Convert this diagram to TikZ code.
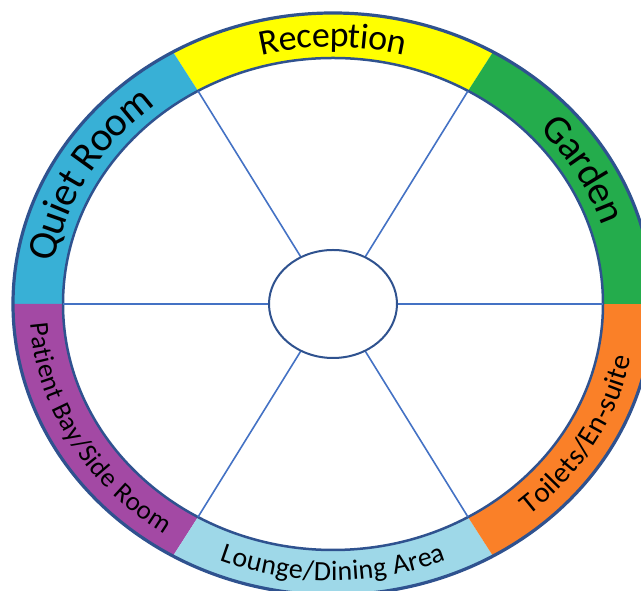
\documentclass[tikz,border=0pt]{standalone}
\usepackage{fontspec}
\setmainfont{Carlito}
\usetikzlibrary{calc,decorations.text,shapes.geometric}

\definecolor{quietblue}{RGB}{56,176,214}
\definecolor{recyellow}{RGB}{255,255,0}
\definecolor{gardengreen}{RGB}{36,172,76}
\definecolor{toiletorange}{RGB}{250,128,40}
\definecolor{loungeblue}{RGB}{158,216,232}
\definecolor{patientpurple}{RGB}{163,73,164}
\definecolor{rimblue}{RGB}{47,82,143}
\definecolor{spokeblue}{RGB}{68,114,196}

% ring geometry (pt)
\def\outerx{320}\def\outery{291}
\def\innerx{270}\def\innery{246}
\def\midx{295}\def\midy{268}

% one coloured sector of the ring, between two parametric angles
\newcommand\ringsector[3]{%
  \fill[#1] ($(C)+({\outerx*cos(#2)},{\outery*sin(#2)})$)
    arc[start angle=#2,end angle=#3,x radius=\outerx,y radius=\outery]
    -- ($(C)+({\innerx*cos(#3)},{\innery*sin(#3)})$)
    arc[start angle=#3,end angle=#2,x radius=\innerx,y radius=\innery]
    -- cycle;}

% a label that follows the middle of the ring
% #1 start angle, #2 end angle, #3 font size, #4 raise, #5 text
\newcommand\ringlabel[5]{%
  \path[decorate,decoration={text along path,text align=center,raise=#4,
      text={|\fontsize{#3}{#3}\selectfont|#5}}]
    ($(C)+({\midx*cos(#1)},{\midy*sin(#1)})$)
    arc[start angle=#1,end angle=#2,x radius=\midx,y radius=\midy];}

\tikzset{
  spoke/.style={draw=spokeblue,line width=1.6pt},
  rim/.style={draw=rimblue,line width=3.2pt},
  innerrim/.style={draw=rimblue,line width=2.5pt},
  hubstyle/.style={draw=rimblue,line width=2pt,fill=white,ellipse,
    minimum width=128pt,minimum height=108pt,inner sep=0pt},
}

\begin{document}
\begin{tikzpicture}[x=1pt,y=1pt]
\useasboundingbox (0,0) rectangle (641,591);
\coordinate (C) at (333,287);

% coloured sectors
\ringsector{recyellow}{60}{120}
\ringsector{quietblue}{120}{180}
\ringsector{patientpurple}{180}{240}
\ringsector{loungeblue}{240}{300}
\ringsector{toiletorange}{300}{360}
\ringsector{gardengreen}{0}{60}

% ring outlines
\draw[rim] (C) ellipse[x radius=\outerx,y radius=\outery];
\draw[innerrim] (C) ellipse[x radius=\innerx,y radius=\innery];

% spokes from the hub to the ring
\foreach \a in {0,60,120,180,240,300}{
  \coordinate (h\a) at ($(C)+({64*cos(\a)},{54*sin(\a)})$);
  \coordinate (r\a) at ($(C)+({\innerx*cos(\a)},{\innery*sin(\a)})$);
  \draw[spoke] (h\a) -- (r\a);
}

% hub
\node[hubstyle] (hub) at (C) {};

% labels
\ringlabel{120}{60}{36}{-11pt}{Reception}
\ringlabel{180}{120}{41}{-12.5pt}{Quiet Room}
\ringlabel{60}{0}{40}{-12.5pt}{Garden}
\ringlabel{180}{240}{27}{-8.5pt}{Patient Bay/Side Room}
\ringlabel{240}{300}{28}{-8.5pt}{Lounge/Dining Area}
\ringlabel{300}{360}{29}{-9pt}{Toilets/En-suite}
\end{tikzpicture}
\end{document}
